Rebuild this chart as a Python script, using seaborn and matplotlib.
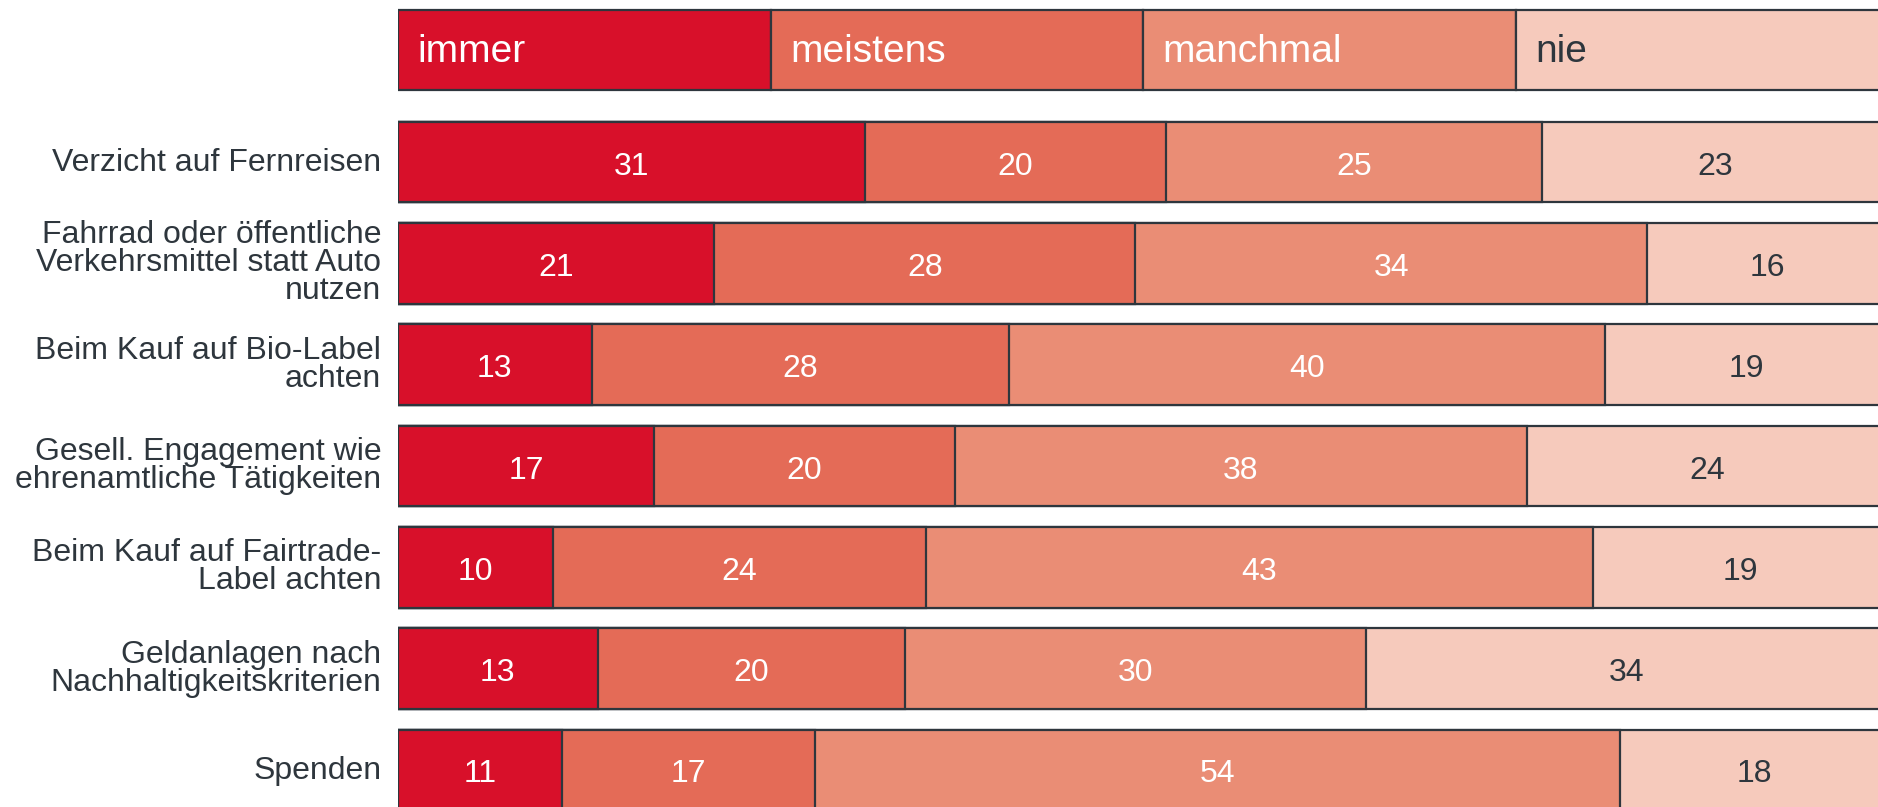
import numpy as np
import pandas as pd
import matplotlib
matplotlib.use("Agg")
import matplotlib.pyplot as plt
import matplotlib.transforms as mtransforms
import seaborn as sns

categories = [
    "Verzicht auf Fernreisen",
    "Fahrrad oder öffentliche\nVerkehrsmittel statt Auto\nnutzen",
    "Beim Kauf auf Bio-Label\nachten",
    "Gesell. Engagement wie\nehrenamtliche Tätigkeiten",
    "Beim Kauf auf Fairtrade-\nLabel achten",
    "Geldanlagen nach\nNachhaltigkeitskriterien",
    "Spenden",
]
immer = [31, 21, 13, 17, 10, 13, 11]
meistens = [20, 28, 28, 20, 24, 20, 17]
manchmal = [25, 34, 40, 38, 43, 30, 54]
nie = [23, 16, 19, 24, 19, 34, 18]
series_names = ["immer", "meistens", "manchmal", "nie"]

colors = ["#D8102A", "#E46B57", "#EA8D75", "#F6CABC"]
text_colors = ["white", "white", "white", "#2E363D"]
edge = "#2E363D"

sns.set_theme(style="white")
plt.rcParams["font.family"] = ["Liberation Sans", "DejaVu Sans"]

df = pd.DataFrame({"cat": categories, "immer": immer, "meistens": meistens,
                   "manchmal": manchmal, "nie": nie})
vals = df[series_names].to_numpy(dtype=float)
shares = vals / vals.sum(axis=1, keepdims=True) * 100
cum = np.cumsum(shares, axis=1)

fig = plt.figure(figsize=(18.78, 8.07), dpi=100)
left_px = 398
ax = fig.add_axes([left_px / 1878, 0, (1878 - left_px) / 1878, 1])

bar_h = 0.797
# draw stacked bars by overlaying cumulative sums (largest first)
for j in range(len(series_names) - 1, -1, -1):
    sns.barplot(x=cum[:, j], y=df["cat"], orient="h", color=colors[j],
                saturation=1, width=bar_h, edgecolor=edge, linewidth=1.6,
                ax=ax, order=categories)

for i in range(len(categories)):
    start = 0.0
    for j in range(len(series_names)):
        w = shares[i, j]
        ax.text(start + w / 2, i + 0.045, str(int(vals[i, j])), ha="center",
                va="center", fontsize=23, color=text_colors[j])
        start += w

# legend row drawn as a bar above
leg_y = -1.107
leg_w = 100 / len(series_names)
for j, name in enumerate(series_names):
    ax.barh(leg_y, leg_w, left=j * leg_w, height=bar_h, color=colors[j],
            edgecolor=edge, linewidth=1.6)
    ax.text(j * leg_w + 1.33, leg_y + 0.02, name, ha="left", va="center",
            fontsize=28, color=text_colors[j])

ax.set_xlim(0, (1878 - left_px) / 14.9)
ax.set_ylim(6.366, -1.600)
ax.set_xlabel("")
ax.set_ylabel("")
ax.set_xticks([])
ax.set_yticks(range(len(categories)))
ax.set_yticklabels(categories, fontsize=23, color="#2E363D", linespacing=0.915)
ax.tick_params(axis="y", length=0, pad=12)
shift = mtransforms.ScaledTranslation(0, 2.5 / 100, fig.dpi_scale_trans)
for lbl in ax.get_yticklabels():
    lbl.set_transform(lbl.get_transform() + shift)
for s in ax.spines.values():
    s.set_visible(False)

fig.savefig("out.png", dpi=100)
